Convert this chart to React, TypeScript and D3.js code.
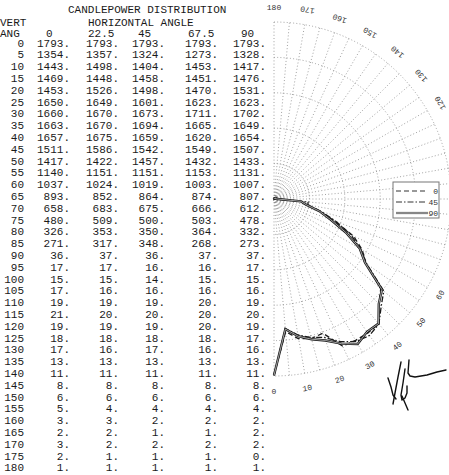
import React from "react";
import * as d3 from "d3";

// ---------- data ----------
const VERT_ANGLES = [0, 5, 10, 15, 20, 25, 30, 35, 40, 45, 50, 55, 60, 65, 70, 75, 80, 85, 90, 95, 100, 105, 110, 115, 120, 125, 130, 135, 140, 145, 150, 155, 160, 165, 170, 175, 180];
const H_LABELS = ["0", "22.5", "45", "67.5", "90"];
const CP_0 = [1793, 1354, 1443, 1469, 1453, 1650, 1660, 1663, 1657, 1511, 1417, 1140, 1037, 893, 658, 480, 326, 271, 36, 17, 15, 17, 19, 21, 19, 18, 17, 13, 11, 8, 6, 5, 3, 2, 3, 2, 1];
const CP_22_5 = [1793, 1357, 1498, 1448, 1526, 1649, 1670, 1670, 1675, 1586, 1422, 1151, 1024, 852, 683, 509, 353, 317, 37, 17, 15, 16, 19, 20, 19, 18, 16, 13, 11, 8, 6, 4, 3, 2, 2, 1, 1];
const CP_45 = [1793, 1324, 1404, 1458, 1498, 1601, 1673, 1694, 1659, 1542, 1457, 1151, 1019, 864, 675, 500, 350, 348, 36, 16, 14, 16, 19, 20, 19, 18, 17, 13, 11, 8, 6, 4, 2, 1, 2, 1, 1];
const CP_67_5 = [1793, 1273, 1453, 1451, 1470, 1623, 1711, 1665, 1620, 1549, 1432, 1153, 1003, 874, 666, 503, 364, 268, 37, 16, 15, 16, 20, 20, 20, 18, 16, 13, 11, 8, 6, 4, 2, 1, 2, 1, 1];
const CP_90 = [1793, 1328, 1417, 1476, 1531, 1623, 1702, 1649, 1654, 1507, 1433, 1131, 1007, 807, 612, 478, 332, 273, 37, 17, 15, 16, 19, 20, 19, 17, 16, 13, 11, 8, 6, 4, 2, 2, 2, 0, 1];
const TABLE_COLUMNS = [CP_0, CP_22_5, CP_45, CP_67_5, CP_90];
const LEGEND_NAMES = ["0", "45", "90"];
const RING_VALUES = [360, 720, 1080, 1440, 1800];
const SPOKE_ANGLES = [0, 5, 10, 15, 20, 25, 30, 35, 40, 45, 50, 55, 60, 65, 70, 75, 80, 85, 90, 95, 100, 105, 110, 115, 120, 125, 130, 135, 140, 145, 150, 155, 160, 165, 170, 175, 180];
// labels 70–110 fall outside the picture in the reference
const LABEL_ANGLES = [0, 10, 20, 30, 40, 50, 60, 120, 130, 140, 150, 160, 170, 180];

// ---------- layout ----------
const W = 449;
const H = 475;
const CX = 274;
const CY = 199;
const R = 177;
const MONO = "'Liberation Mono', 'DejaVu Sans Mono', monospace";
const COL_RIGHT = [70, 119, 165, 218, 266];
const HEAD_X = [46, 88, 138, 188, 241];

const rScale = d3.scaleLinear().domain([0, 1800]).range([0, R]);
const rowY = d3.scaleLinear().domain([0, 180]).range([46.5, 46.5 + 36 * 11.8]);
const rad = (d: number) => (d * Math.PI) / 180;

const radial = d3
  .lineRadial<[number, number]>()
  .angle((d) => Math.PI - rad(d[0]))
  .radius((d) => rScale(d[1]));

function ringPath(r: number) {
  const p = d3.path();
  p.arc(0, 0, r, -Math.PI / 2, Math.PI / 2);
  return p.toString();
}

const series = [
  { name: LEGEND_NAMES[0], values: CP_0, dash: "5,3" },
  { name: LEGEND_NAMES[1], values: CP_45, dash: "6,2,1.5,2" },
  { name: LEGEND_NAMES[2], values: CP_90, dash: null },
];

function Signature() {
  return (
    <g fill="none" stroke="#111" strokeWidth={1.4} strokeLinecap="round" strokeLinejoin="round">
      <path d="M401,362 L398,377 L395,393 L393,404" />
      <path d="M388,378 L391,387 L393,395 L396,399" />
      <path d="M405,369 L403,383 L401,395 L402,400 L405,398 L407,393 L407,386" />
      <path d="M409,360 L408,373 L410,376 L415,377 L427,375 L437,372 L446,370" />
      <path d="M402,396 L405,403 L408,410" />
    </g>
  );
}

export default function App() {
  return (
    <svg
      width={W}
      height={H}
      viewBox={`0 0 ${W} ${H}`}
      style={{ position: "absolute", left: 0, top: 0, background: "#fff", display: "block" }}
    >
      <rect x={0} y={0} width={W} height={H} fill="#fff" />
      {/* table */}
      <g fontFamily={MONO} fontSize={11} fill="#1a1a1a">
        <text x={68} y={13}>CANDLEPOWER DISTRIBUTION</text>
        <text x={0} y={26}>VERT</text>
        <text x={88} y={26}>HORIZONTAL ANGLE</text>
        <text x={0} y={36.5}>ANG</text>
        {H_LABELS.map((h, j) => (
          <text key={h} x={HEAD_X[j]} y={36.5}>
            {h}
          </text>
        ))}
        {VERT_ANGLES.map((a, i) => (
          <g key={a}>
            <text x={24} y={rowY(a)} textAnchor="end">
              {a}
            </text>
            {TABLE_COLUMNS.map((col, j) => (
              <text key={j} x={COL_RIGHT[j]} y={rowY(a)} textAnchor="end">
                {col[i] + "."}
              </text>
            ))}
          </g>
        ))}
      </g>

      {/* polar plot */}
      <g transform={`translate(${CX},${CY})`}>
        <g fill="none" stroke="#8a8a8a" strokeWidth={0.8} strokeDasharray="1,2.2">
          {RING_VALUES.map((v) => (
            <path key={v} d={ringPath(rScale(v))} />
          ))}
          {SPOKE_ANGLES.map((a) => (
            <line
              key={a}
              x1={0}
              y1={0}
              x2={R * Math.sin(rad(a))}
              y2={R * Math.cos(rad(a))}
            />
          ))}
        </g>
        <g fontFamily={MONO} fontSize={8} fill="#333">
          {LABEL_ANGLES.map((a) => {
            const x = 192 * Math.sin(rad(a));
            const y = 192 * Math.cos(rad(a));
            const rot = a === 180 ? 0 : -a;
            return (
              <text
                key={a}
                x={x}
                y={y}
                textAnchor="middle"
                dominantBaseline="central"
                transform={`rotate(${rot},${x},${y})`}
              >
                {a}
              </text>
            );
          })}
        </g>
        {series.map((s) => {
          const pts: [number, number][] = VERT_ANGLES.map((a, i) => [a, s.values[i]]);
          const d = radial(pts) || "";
          if (s.dash) {
            return (
              <path key={s.name} d={d} fill="none" stroke="#1a1a1a" strokeWidth={1.3} strokeDasharray={s.dash} />
            );
          }
          return (
            <g key={s.name}>
              <path d={d} fill="none" stroke="#1a1a1a" strokeWidth={2.4} />
              <path d={d} fill="none" stroke="#fff" strokeWidth={0.6} />
            </g>
          );
        })}
      </g>

      {/* legend */}
      <g>
        <rect x={393} y={182} width={46} height={36} fill="#fff" stroke="#777" strokeWidth={1} />
        {series.map((s, i) => {
          const y = 191 + i * 11;
          return (
            <g key={s.name}>
              {s.dash ? (
                <line x1={396} x2={426} y1={y} y2={y} stroke="#333" strokeWidth={1} strokeDasharray={s.dash} />
              ) : (
                <g>
                  <line x1={396} x2={428} y1={y} y2={y} stroke="#555" strokeWidth={2.2} />
                  <line x1={396} x2={428} y1={y} y2={y} stroke="#fff" strokeWidth={0.6} />
                </g>
              )}
              <text x={438} y={y} textAnchor="end" dominantBaseline="central" fontFamily={MONO} fontSize={8} fill="#333">
                {s.name}
              </text>
            </g>
          );
        })}
      </g>

      <Signature />
    </svg>
  );
}
